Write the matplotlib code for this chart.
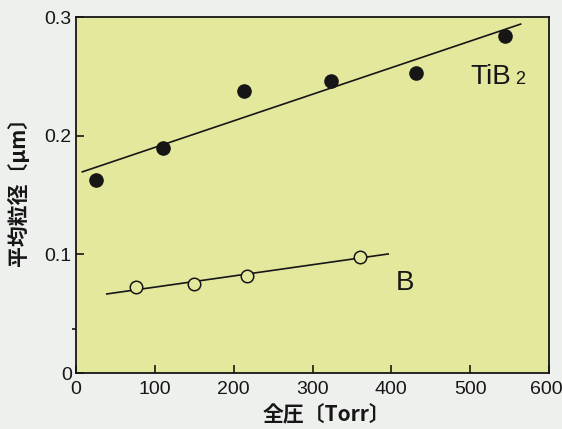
import matplotlib
matplotlib.use("Agg")
import matplotlib.pyplot as plt
from matplotlib.transforms import ScaledTranslation

# --- data ---
tib2_x = [25, 110, 213, 324, 431, 544]
tib2_y = [0.163, 0.190, 0.238, 0.246, 0.253, 0.284]
tib2_fit_x = [8, 564]
tib2_fit_y = [0.1695, 0.294]

b_x = [76, 150, 217, 360]
b_y = [0.0725, 0.075, 0.082, 0.098]
b_fit_x = [39, 396]
b_fit_y = [0.0666, 0.1003]

x_ticks = [0, 100, 200, 300, 400, 500, 600]
y_ticks = [0, 0.1, 0.2, 0.3]
y_tick_labels = ["0", "0.1", "0.2", "0.3"]

plt.rcParams['font.family'] = ['Liberation Sans', 'Noto Sans CJK JP', 'DejaVu Sans']

fig = plt.figure(figsize=(5.62, 4.29), dpi=100)
fig.patch.set_facecolor('#eef0ee')
ax = fig.add_axes([76/562, 1-373/429, (549-76)/562, (373-17)/429])
ax.set_facecolor('#e4e89c')

ink = '#161616'
ax.plot(tib2_fit_x, tib2_fit_y, color=ink, lw=1.2)
ax.plot(tib2_x, tib2_y, 'o', color=ink, ms=9.5, mec=ink)
ax.plot(b_fit_x, b_fit_y, color=ink, lw=1.2)
ax.plot(b_x, b_y, 'o', mfc='#e4e89c', mec=ink, ms=9, mew=1.1)

ax.set_xlim(0, 600)
ax.set_ylim(0, 0.3)
ax.set_xticks(x_ticks)
ax.set_xticklabels([str(v) for v in x_ticks])
ax.set_yticks(y_ticks)
ax.set_yticklabels(y_tick_labels)
ax.set_yticks([0.037], minor=True)
ax.tick_params(axis='both', direction='in', length=6, width=1.2, colors=ink, labelsize=14)
ax.tick_params(axis='y', which='minor', direction='out', length=3, width=1.2, colors=ink)
ax.tick_params(axis='x', pad=6)
ax.tick_params(axis='y', pad=3)
for s in ax.spines.values():
    s.set_linewidth(1.3)
    s.set_color(ink)

# nudge the last x tick label left so it stays inside the figure
lbl = ax.get_xticklabels()[-1]
lbl.set_transform(lbl.get_transform() + ScaledTranslation(-3/100, 0, fig.dpi_scale_trans))

ax.text(500, 0.2437, 'TiB', fontsize=20, color=ink, va='baseline', ha='left')
ax.text(557, 0.2437, '2', fontsize=13, color=ink, va='baseline', ha='left')
ax.text(417, 0.076, 'B', fontsize=20, color=ink, ha='center', va='center')

fig.text(326/562, 1-414/429, '全圧〔Torr〕', fontsize=15, fontweight='bold',
         family=['Noto Sans CJK JP', 'DejaVu Sans'], ha='center', va='center', color=ink)
fig.text(18/562, 1-186/429, '平均粒径〔μm〕', fontsize=15, fontweight='bold',
         family=['Noto Sans CJK JP', 'DejaVu Sans'], ha='center', va='center',
         rotation=90, color=ink)

fig.savefig('out.png', dpi=100, facecolor=fig.get_facecolor())
